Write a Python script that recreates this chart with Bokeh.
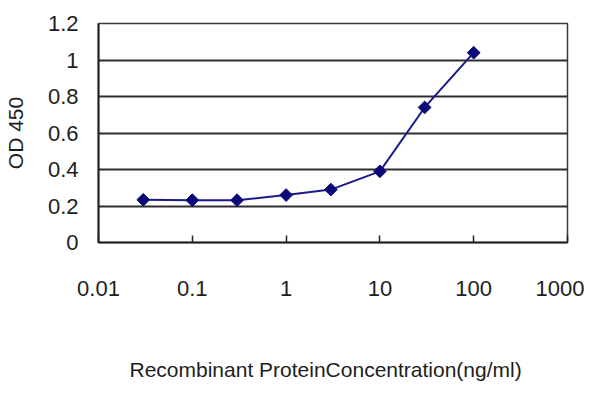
import math
from bokeh.plotting import figure
from bokeh.models import FixedTicker, CustomJSTickFormatter, Range1d, Title
from bokeh.embed import file_html
from bokeh.resources import INLINE

# Data
conc = [0.03, 0.1, 0.3, 1, 3, 10, 30, 100]
od450 = [0.234, 0.232, 0.232, 0.26, 0.29, 0.39, 0.74, 1.04]
x_ticks = [0.01, 0.1, 1, 10, 100, 1000]
y_ticks = [0, 0.2, 0.4, 0.6, 0.8, 1.0, 1.2]
x_label = "Recombinant ProteinConcentration(ng/ml)"
y_label = "OD 450"

FONT = "Liberation Sans"
TXT = "#1e1e1e"

p = figure(width=584, height=384, x_axis_type="log",
           x_range=Range1d(0.01, 1000), y_range=Range1d(0, 1.2),
           output_backend="svg", toolbar_location=None,
           min_border_left=87, min_border_top=23, min_border_right=17,
           min_border_bottom=142)
p.background_fill_color = "white"
p.border_fill_color = "white"
p.outline_line_color = "#3a3a3a"
p.outline_line_width = 1.5

# grid
p.xgrid.visible = False
p.ygrid.ticker = FixedTicker(ticks=y_ticks)
p.ygrid.grid_line_color = "#2e2e2e"
p.ygrid.grid_line_width = 2

# x axis
p.xaxis.ticker = FixedTicker(ticks=x_ticks)
p.xaxis.formatter = CustomJSTickFormatter(code="return tick.toString();")
p.xaxis.minor_tick_line_color = None
p.xaxis.major_tick_in = 7
p.xaxis.major_tick_out = 0
p.xaxis.major_tick_line_color = "#222222"
p.xaxis.major_tick_line_width = 1.5
p.xaxis.axis_line_color = "#222222"
p.xaxis.axis_line_width = 2
p.xaxis.major_label_standoff = 38

# y axis
p.yaxis.ticker = FixedTicker(ticks=y_ticks)
p.yaxis.formatter = CustomJSTickFormatter(code="return tick.toString();")
p.yaxis.minor_tick_line_color = None
p.yaxis.major_tick_in = 0
p.yaxis.major_tick_out = 0
p.yaxis.axis_line_color = "#222222"
p.yaxis.axis_line_width = 2
p.yaxis.major_label_standoff = 20
p.yaxis.axis_label = y_label
p.yaxis.axis_label_standoff = 18
p.yaxis.axis_label_text_font_style = "normal"

for ax in (p.xaxis, p.yaxis):
    ax.major_label_text_font = FONT
    ax.major_label_text_font_size = "22px"
    ax.major_label_text_color = TXT
    ax.axis_label_text_font = FONT
    ax.axis_label_text_font_size = "21px"
    ax.axis_label_text_color = TXT

# blank spacer panel, then the x-axis title (left-aligned with an offset)
p.add_layout(Title(text=" ", standoff=32, text_font=FONT,
                   text_font_size="21px"), "below")
p.add_layout(Title(text=x_label, align="left", offset=31, standoff=2,
                   vertical_align="middle",
                   text_font=FONT, text_font_size="21px",
                   text_font_style="normal", text_color=TXT), "below")

p.line(conc, od450, line_color="#1a1a8c", line_width=2)
p.scatter(conc, od450, marker="square", size=9, angle=math.pi / 4,
          fill_color="#0a0a78", line_color="#0a0a78")

open("out.html", "w").write(file_html(p, INLINE))
